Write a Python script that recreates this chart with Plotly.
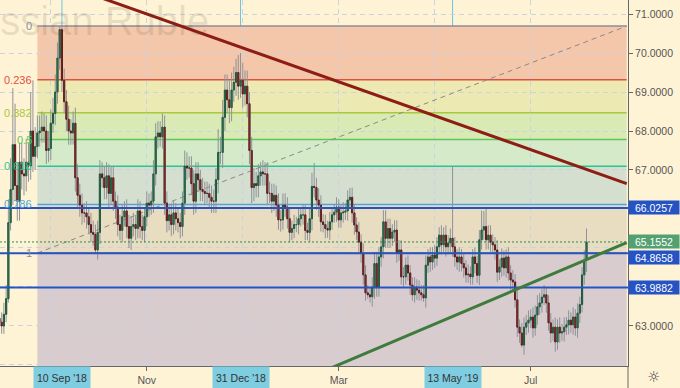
import pandas as pd
import plotly.graph_objects as go

# ---------------- data ----------------
dates = pd.bdate_range("2018-08-01", "2019-08-05")
first_open = 63.20
closes = [
    63.10, 63.00, 63.30, 63.70, 65.65, 66.50, 67.65, 66.60, 66.20, 67.20,
    66.90, 66.85, 67.20, 67.10, 68.00, 67.35, 67.60, 67.95, 68.00, 68.10,
    68.00, 67.50, 67.55, 68.20, 68.45, 69.00, 69.87, 70.60, 69.30, 68.75,
    68.30, 68.00, 67.95, 68.20, 66.80, 66.35, 66.10, 65.90, 65.90, 65.80,
    65.60, 65.40, 65.35, 64.95, 65.40, 66.90, 66.80, 66.55, 66.85, 66.40,
    66.80, 66.20, 66.05, 65.60, 65.45, 65.80, 65.95, 65.55, 65.25, 65.55,
    65.60, 65.50, 65.95, 65.55, 65.45, 65.80, 66.15, 66.10, 66.20, 66.90,
    67.85, 67.95, 67.85, 68.10, 66.15, 65.70, 65.85, 65.60, 65.90, 65.75,
    65.65, 65.55, 66.15, 67.10, 67.05, 67.05, 66.65, 66.20, 66.90, 66.75,
    66.50, 66.45, 66.40, 66.40, 66.30, 66.20, 66.20, 66.75, 67.45, 67.45,
    68.35, 69.05, 68.80, 68.60, 69.05, 69.25, 69.50, 69.15, 69.30, 68.95,
    69.15, 68.70, 67.50, 66.55, 66.65, 66.60, 66.85, 66.95, 66.90, 66.90,
    66.40, 66.40, 66.20, 66.35, 66.10, 65.72, 65.72, 66.10, 66.05, 65.75,
    65.40, 65.50, 65.60, 65.60, 65.75, 65.85, 65.85, 65.45, 65.40, 65.75,
    66.58, 66.55, 66.23, 66.10, 65.67, 65.60, 65.50, 65.46, 65.67, 65.85,
    65.92, 66.05, 65.72, 65.90, 65.92, 65.95, 66.23, 66.30, 65.90, 65.59,
    65.41, 65.15, 64.87, 64.31, 63.85, 63.80, 63.75, 64.00, 64.60, 64.00,
    64.77, 65.03, 65.67, 65.25, 65.50, 65.25, 65.41, 65.46, 64.87, 64.95,
    64.26, 64.26, 64.56, 64.36, 64.05, 63.80, 64.00, 63.92, 63.85, 63.80,
    63.72, 64.56, 64.77, 64.64, 64.82, 64.74, 65.03, 65.33, 65.08, 65.33,
    65.03, 65.13, 65.25, 65.03, 64.77, 64.64, 64.77, 64.60, 64.49, 64.31,
    64.33, 64.26, 64.77, 64.60, 64.30, 65.21, 65.46, 65.55, 65.21, 65.33,
    65.15, 65.08, 64.95, 64.38, 64.51, 64.74, 64.49, 64.77, 64.36, 64.18,
    64.13, 63.67, 62.97, 62.82, 62.51, 62.97, 63.08, 63.15, 63.23, 62.95,
    63.28, 63.49, 63.59, 63.74, 63.80, 63.59, 63.08, 62.82, 62.97, 62.59,
    62.97, 62.82, 62.85, 62.97, 63.03, 63.15, 63.03, 63.23, 62.95, 63.33,
    63.55, 64.31, 64.69, 65.15,
]
upper_wick = [
    0.20, 0.25, 0.30, 0.35, 0.60, 0.80, 1.45, 1.05, 0.60, 0.50,
    0.50, 0.40, 0.60, 0.50, 1.00, 1.30, 0.50, 0.45, 0.40, 0.40,
    0.35, 0.40, 0.45, 0.35, 0.40, 0.45, 0.40, 0.10, 0.12, 0.30,
    0.30, 0.35, 0.30, 0.30, 0.40, 0.35, 0.30, 0.30, 0.25, 0.30,
    0.25, 0.30, 0.30, 0.25, 0.30, 0.35, 0.30, 0.30, 0.35, 0.30,
    0.30, 0.30, 0.25, 0.30, 0.25, 0.30, 0.25, 0.30, 0.30, 0.25,
    0.30, 0.25, 0.30, 0.25, 0.30, 0.25, 0.30, 0.25, 0.25, 0.35,
    0.35, 0.30, 0.30, 0.35, 0.30, 0.30, 0.25, 0.30, 0.30, 0.25,
    0.30, 0.25, 0.30, 0.40, 0.35, 0.30, 0.30, 0.35, 0.30, 0.30,
    0.25, 0.30, 0.25, 0.30, 0.25, 0.30, 0.30, 0.30, 0.60, 0.40,
    0.45, 0.40, 0.40, 0.50, 0.45, 0.40, 0.35, 0.45, 0.70, 0.45,
    0.40, 0.40, 0.30, 0.35, 0.40, 0.30, 0.30, 0.25, 0.30, 0.30,
    0.30, 0.30, 0.25, 0.30, 0.25, 0.30, 0.25, 0.30, 0.30, 0.25,
    0.25, 0.20, 0.25, 0.20, 0.25, 0.20, 0.25, 0.25, 0.20, 0.30,
    0.35, 0.60, 0.25, 0.30, 0.25, 0.20, 0.25, 0.20, 0.25, 0.20,
    0.20, 0.25, 0.20, 0.20, 0.25, 0.20, 0.25, 0.24, 0.25, 0.20,
    0.20, 0.25, 0.20, 0.25, 0.25, 0.20, 0.20, 0.25, 0.30, 0.30,
    0.25, 0.25, 0.30, 0.30, 0.25, 0.25, 0.20, 0.25, 0.25, 0.25,
    0.25, 0.25, 0.20, 0.25, 0.20, 0.20, 0.25, 0.20, 0.25, 0.20,
    0.25, 0.25, 0.20, 0.25, 0.20, 0.25, 0.25, 0.20, 0.25, 0.20,
    0.25, 0.20, 0.25, 1.85, 0.25, 0.20, 0.25, 0.20, 0.25, 0.20,
    0.25, 0.20, 0.20, 0.25, 0.20, 0.25, 0.50, 0.40, 0.45, 0.25,
    0.25, 0.20, 0.20, 0.25, 0.20, 0.25, 0.20, 0.20, 0.25, 0.20,
    0.25, 0.20, 0.25, 0.20, 0.25, 0.25, 0.20, 0.25, 0.20, 0.25,
    0.25, 0.30, 0.25, 0.20, 0.25, 0.20, 0.20, 0.25, 0.20, 0.25,
    0.20, 0.25, 0.20, 0.25, 0.20, 0.25, 0.20, 0.25, 0.20, 0.25,
    0.20, 0.20, 0.25, 0.35,
]
lower_wick = [
    0.25, 0.20, 0.20, 0.20, 0.10, 0.20, 0.40, 0.40, 0.50, 0.50,
    0.40, 0.50, 0.40, 0.40, 0.35, 0.40, 0.35, 0.30, 0.35, 0.30,
    0.30, 0.35, 0.30, 0.30, 0.25, 0.30, 0.30, 0.30, 0.30, 0.30,
    0.30, 0.35, 0.30, 0.30, 0.35, 0.30, 0.30, 0.30, 0.25, 0.30,
    0.25, 0.25, 0.30, 0.08, 0.25, 0.30, 0.25, 0.30, 0.30, 0.35,
    0.30, 0.25, 0.30, 0.30, 0.25, 0.30, 0.25, 0.30, 0.25, 0.30,
    0.25, 0.30, 0.25, 0.30, 0.25, 0.30, 0.25, 0.30, 0.25, 0.30,
    0.30, 0.30, 0.25, 0.30, 0.30, 0.30, 0.25, 0.30, 0.25, 0.30,
    0.25, 0.30, 0.25, 0.30, 0.30, 0.25, 0.30, 0.35, 0.30, 0.30,
    0.30, 0.25, 0.30, 0.25, 0.30, 0.30, 0.30, 0.30, 0.35, 0.30,
    0.40, 0.35, 0.35, 0.40, 0.35, 0.30, 0.35, 0.35, 0.30, 0.35,
    0.30, 0.35, 0.35, 0.40, 0.35, 0.30, 0.30, 0.25, 0.30, 0.30,
    0.30, 0.25, 0.30, 0.25, 0.30, 0.25, 0.30, 0.25, 0.25, 0.25,
    0.25, 0.20, 0.25, 0.20, 0.25, 0.20, 0.25, 0.25, 0.20, 0.25,
    0.30, 0.25, 0.25, 0.30, 0.25, 0.20, 0.25, 0.20, 0.25, 0.20,
    0.20, 0.25, 0.20, 0.20, 0.25, 0.20, 0.25, 0.20, 0.25, 0.25,
    0.20, 0.25, 0.25, 0.25, 0.20, 0.10, 0.15, 0.25, 0.30, 0.25,
    0.25, 0.25, 0.30, 0.25, 0.25, 0.25, 0.20, 0.25, 0.25, 0.20,
    0.20, 0.25, 0.20, 0.20, 0.25, 0.15, 0.20, 0.25, 0.20, 0.15,
    0.10, 0.25, 0.20, 0.25, 0.20, 0.25, 0.20, 0.20, 0.25, 0.20,
    0.25, 0.20, 0.25, 0.25, 0.25, 0.20, 0.25, 0.20, 0.25, 0.20,
    0.20, 0.20, 0.20, 0.25, 0.20, 0.25, 0.25, 0.25, 0.25, 0.25,
    0.25, 0.20, 0.25, 0.25, 0.20, 0.25, 0.20, 0.25, 0.20, 0.25,
    0.25, 0.20, 0.25, 0.25, 0.06, 0.25, 0.20, 0.25, 0.20, 0.25,
    0.20, 0.25, 0.20, 0.25, 0.20, 0.25, 0.20, 0.25, 0.20, 0.25,
    0.20, 0.25, 0.20, 0.25, 0.20, 0.25, 0.20, 0.25, 0.20, 0.25,
    0.25, 0.20, 0.25, 0.30,
]

# Fibonacci retracement drawing
fib_start = "2018-08-24"
fib_end = "2019-08-29"
fib_top = 70.69
fib_bottom = 64.87
fib_ratios = [0, 0.236, 0.382, 0.5, 0.618, 0.786, 1]
fib_labels = ["0", "0.236", "0.382", "0.5", "0.618", "0.786", "1"]
fib_line_colors = ["#8c8c98", "#df5040", "#a8c93c", "#5cc85c", "#2fc48e", "#4ba6e0", "#8c8c98"]
fib_zone_colors = ["#f4c7aa", "#ece9b3", "#d9eab4", "#d4eac8", "#d4dfd0", "#e8dcc1", "#d8ccce"]

# horizontal levels & last price
key_levels = [66.0257, 64.8658, 63.9882]
key_label_shift = [0, -4, 0]
last_price = 65.1552

# trend lines (two anchor points each)
red_trend_x = ["2018-09-10", "2019-08-29"]
red_trend_y = [71.77, 66.65]
green_trend_x = ["2019-02-25", "2019-08-29"]
green_trend_y = [61.91, 65.14]

# highlighted dates
marked_dates = ["2018-09-10", "2018-12-31", "2019-05-13"]
marked_labels = ["10 Sep '18", "31 Dec '18", "13 May '19"]

# axis ticks
y_tick_vals = [63, 67, 68, 69, 70, 71]
y_minor_vals = [62, 64, 65, 66]
x_tick_vals = ["2018-09-03", "2018-11-01", "2019-01-01", "2019-03-01", "2019-05-01", "2019-07-01"]
x_tick_text = ["", "Nov", "", "Mar", "", "Jul"]

# ---------------- derived OHLC ----------------
opens = [first_open] + closes[:-1]
highs = [max(o, c) + u for o, c, u in zip(opens, closes, upper_wick)]
lows = [min(o, c) - w for o, c, w in zip(opens, closes, lower_wick)]
body_hi = [max(o, c) for o, c in zip(opens, closes)]
body_lo = [min(o, c) for o, c in zip(opens, closes)]

BG = "#fff3d6"
FONT = "Liberation Sans, Arial, sans-serif"
BLUE = "#2553c4"

fig = go.Figure()
# wicks (gray)
fig.add_trace(go.Candlestick(
    x=dates, open=opens, high=highs, low=lows, close=closes,
    increasing=dict(line=dict(color="#8f9298", width=1), fillcolor="#8f9298"),
    decreasing=dict(line=dict(color="#8f9298", width=1), fillcolor="#8f9298"),
    hoverinfo="skip", showlegend=False,
))
# bodies
fig.add_trace(go.Candlestick(
    x=dates, open=opens, high=body_hi, low=body_lo, close=closes,
    increasing=dict(line=dict(color="#1f5a3c", width=1), fillcolor="#3d9066"),
    decreasing=dict(line=dict(color="#5e1c1a", width=1), fillcolor="#b4443e"),
    hoverinfo="skip", showlegend=False,
))

shapes = []
levels = [fib_top - r * (fib_top - fib_bottom) for r in fib_ratios]
# zones
for i in range(len(levels) - 1):
    shapes.append(dict(type="rect", xref="x", yref="y", x0=fib_start, x1=fib_end,
                       y0=levels[i + 1], y1=levels[i], fillcolor=fib_zone_colors[i],
                       line=dict(width=0), layer="below"))
shapes.append(dict(type="rect", xref="x", yref="y", x0=fib_start, x1=fib_end,
                   y0=55, y1=levels[-1], fillcolor=fib_zone_colors[-1],
                   line=dict(width=0), layer="below"))
# level lines
for lv, col in zip(levels, fib_line_colors):
    shapes.append(dict(type="line", xref="x", yref="y", x0=fib_start, x1=fib_end,
                       y0=lv, y1=lv, line=dict(color=col, width=1.5), layer="between"))
# diagonal of fib
shapes.append(dict(type="line", xref="x", yref="y", x0=fib_start, x1=fib_end,
                   y0=fib_bottom, y1=fib_top, line=dict(color="#8a8a8a", width=1, dash="5px,4px"),
                   layer="between"))
# vertical marked date lines
for d in marked_dates:
    shapes.append(dict(type="line", xref="x", yref="paper", x0=d, x1=d, y0=0, y1=1,
                       line=dict(color="#6cc4e4", width=1), layer="between"))
# key horizontal levels
for lv in key_levels:
    shapes.append(dict(type="line", xref="paper", yref="y", x0=0, x1=1, y0=lv, y1=lv,
                       line=dict(color=BLUE, width=2), layer="above"))
# last price dotted
shapes.append(dict(type="line", xref="paper", yref="y", x0=0, x1=1, y0=last_price, y1=last_price,
                   line=dict(color="#2e8a50", width=1, dash="2px,2px"), layer="above"))
# trend lines
shapes.append(dict(type="line", xref="x", yref="y", x0=red_trend_x[0], x1=red_trend_x[1],
                   y0=red_trend_y[0], y1=red_trend_y[1], line=dict(color="#8e1d16", width=3), layer="above"))
shapes.append(dict(type="line", xref="x", yref="y", x0=green_trend_x[0], x1=green_trend_x[1],
                   y0=green_trend_y[0], y1=green_trend_y[1], line=dict(color="#3f7b3c", width=3), layer="above"))
# axis separator below price scale
shapes.append(dict(type="line", xref="paper", yref="paper", x0=1, x1=1, y0=0, y1=-0.07,
                   line=dict(color="#666", width=1)))

annotations = []
# watermark
annotations.append(dict(text="Russian Ruble", xref="paper", yref="paper", x=211 / 628, y=1 - 21 / 366,
                        xanchor="right", yanchor="middle", showarrow=False,
                        font=dict(family=FONT, size=40, color="rgba(70,60,40,0.13)")))
# fib labels
for lv, lab, col in zip(levels, fib_labels, fib_line_colors):
    annotations.append(dict(text=lab, xref="x", yref="y", x=fib_start, y=lv, xanchor="right",
                            yanchor="middle", xshift=-3, showarrow=False,
                            font=dict(family=FONT, size=11, color=col)))
# key level price boxes
for lv, sh in zip(key_levels, key_label_shift):
    annotations.append(dict(text=f"{lv:.4f}", xref="paper", yref="y", x=1, y=lv, xanchor="left",
                            yanchor="middle", yshift=sh, showarrow=False, bgcolor=BLUE,
                            width=48, height=11, borderpad=1, align="center",
                            font=dict(family=FONT, size=10.5, color="white")))
annotations.append(dict(text=f"{last_price:.4f}", xref="paper", yref="y", x=1, y=last_price, xanchor="left",
                        yanchor="middle", showarrow=False, bgcolor="#55a070",
                        width=48, height=11, borderpad=1, align="center",
                        font=dict(family=FONT, size=10.5, color="white")))
# marked date boxes
for d, lab in zip(marked_dates, marked_labels):
    annotations.append(dict(text=lab, xref="x", yref="paper", x=d, y=0, xanchor="center",
                            yanchor="top", showarrow=False, bgcolor="#7fcde0",
                            width=52, height=18, borderpad=2,
                            font=dict(family=FONT, size=10.5, color="#333")))
# settings icon
annotations.append(dict(text="☼", xref="paper", yref="paper", x=1 + 25 / 628, y=-11 / 366,
                        xanchor="center", yanchor="middle", showarrow=False,
                        font=dict(family="DejaVu Sans", size=15, color="#444")))

fig.update_layout(
    width=680, height=388,
    margin=dict(l=0, r=52, t=0, b=22),
    paper_bgcolor=BG, plot_bgcolor=BG,
    showlegend=False, hovermode=False,
    shapes=shapes, annotations=annotations,
    font=dict(family=FONT),
)
fig.update_xaxes(
    type="date",
    range=["2018-08-01 06:00", "2019-08-29 14:00"],
    rangebreaks=[dict(bounds=["sat", "mon"])],
    rangeslider=dict(visible=False),
    tickmode="array", tickvals=x_tick_vals, ticktext=x_tick_text,
    showgrid=True, gridcolor="#ccd2e2", griddash="5px,4px", gridwidth=1,
    showline=True, linecolor="#666", linewidth=1,
    ticks="outside", ticklen=4, tickcolor="#666",
    tickfont=dict(family=FONT, size=10.5, color="#555"),
    zeroline=False, fixedrange=True,
)
fig.update_yaxes(
    side="right",
    range=[61.974, 71.359],
    tickmode="array", tickvals=y_tick_vals,
    ticktext=[f"{v:.4f}" for v in y_tick_vals],
    showgrid=True, gridcolor="#ccd2e2", griddash="5px,4px", gridwidth=1,
    minor=dict(tickvals=y_minor_vals, showgrid=True, gridcolor="#ccd2e2", griddash="5px,4px", ticks=""),
    showline=True, linecolor="#666", linewidth=1,
    ticks="outside", ticklen=4, tickcolor="#666",
    tickfont=dict(family=FONT, size=10.5, color="#555"),
    zeroline=False, fixedrange=True,
)

fig.write_html("out.html")
